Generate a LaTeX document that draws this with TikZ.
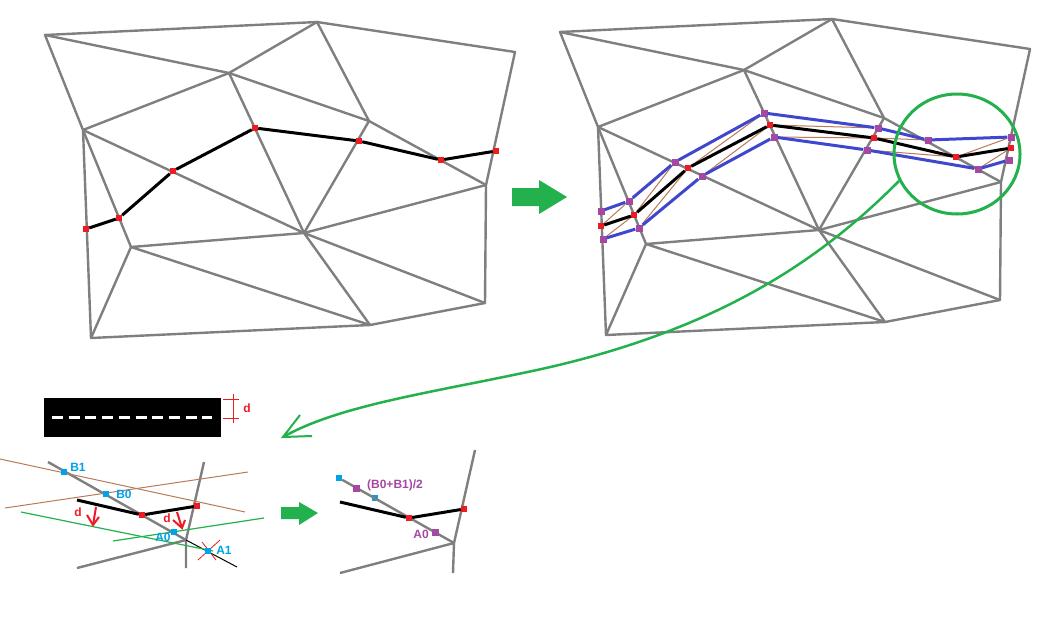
\documentclass[tikz,border=0pt]{standalone}
\usepackage{fontspec}
\setmainfont{Liberation Sans}
\usetikzlibrary{
	calc,
	positioning,
	shapes.geometric
}
\definecolor{MeshGray}{RGB}{127,127,127}
\definecolor{PtRed}{RGB}{237,28,36}
\definecolor{PtPurple}{RGB}{163,73,164}
\definecolor{PtBlue}{RGB}{0,162,232}
\definecolor{LineBlue}{RGB}{63,72,204}
\definecolor{LineBrown}{RGB}{185,122,87}
\definecolor{MarkGreen}{RGB}{34,177,76}
\tikzset{
	mesh/.style={line width=2.4pt, MeshGray, line join=round},
	road/.style={line width=3pt, black},
	side/.style={line width=3pt, LineBlue},
	thinbrown/.style={line width=1pt, LineBrown},
	thingreen/.style={line width=1.2pt, MarkGreen},
	redpt/.style={rectangle, fill=PtRed, inner sep=0pt, minimum size=6pt},
	purplept/.style={rectangle, fill=PtPurple, inner sep=0pt, minimum size=7pt},
	bluept/.style={rectangle, fill=PtBlue, inner sep=0pt, minimum size=6pt},
	lbl/.style={font=\fontsize{12}{12}\selectfont\bfseries, inner sep=0pt},
	fatarrow/.style={fill=MarkGreen, draw=none}
}
\begin{document}
\begin{tikzpicture}[x=1pt, y=-1pt]
	\useasboundingbox (0,0) rectangle (1062,635);
	% the two meshes
	\foreach \m/\dx/\dy in {L/0/0, R/515/-3} {
		\begin{scope}[shift={(\dx,\dy)}]
			\coordinate (\m a) at (45,35);
			\coordinate (\m b) at (317,22);
			\coordinate (\m c) at (515,52);
			\coordinate (\m d) at (229,73);
			\coordinate (\m e) at (83,130);
			\coordinate (\m f) at (369,121);
			\coordinate (\m g) at (486,185);
			\coordinate (\m h) at (304,233);
			\coordinate (\m i) at (131,247);
			\coordinate (\m j) at (485,303);
			\coordinate (\m k) at (370,325);
			\coordinate (\m l) at (91,338);
			\draw[mesh] (\m a) -- (\m b) -- (\m c) -- (\m g) -- (\m j) -- (\m k) -- (\m l) -- (\m e) -- cycle;
			\draw[mesh] (\m a) -- (\m d) -- (\m b) -- (\m f) -- (\m g);
			\draw[mesh] (\m e) -- (\m d) -- (\m f) -- (\m h) -- (\m d);
			\draw[mesh] (\m e) -- (\m h) -- (\m g);
			\draw[mesh] (\m e) -- (\m i) -- (\m l);
			\draw[mesh] (\m h) -- (\m i) -- (\m k) -- (\m h) -- (\m j);
		\end{scope}
	}
	% left road
	\node[redpt] (a1) at (86,229) {};
	\node[redpt] (a2) at (119,218) {};
	\node[redpt] (a3) at (173,171) {};
	\node[redpt] (a4) at (255,128) {};
	\node[redpt] (a5) at (359,141) {};
	\node[redpt] (a6) at (441,160) {};
	\node[redpt] (a7) at (496,151) {};
	\draw[road] (a1) -- (a2) -- (a3) -- (a4) -- (a5) -- (a6) -- (a7);
	% right road, with both sides
	\node[redpt] (m1) at (601,226) {};
	\node[redpt] (m2) at (634,215) {};
	\node[redpt] (m3) at (688,168) {};
	\node[redpt] (m4) at (770,125) {};
	\node[redpt] (m5) at (874,138) {};
	\node[redpt] (m6) at (956,157) {};
	\node[redpt] (m7) at (1011,148) {};
	\node[purplept] (u1) at (601,211) {};
	\node[purplept] (u2) at (629,201) {};
	\node[purplept] (u3) at (675,162) {};
	\node[purplept] (u4) at (764,113) {};
	\node[purplept] (u5) at (878,128) {};
	\node[purplept] (u6) at (928,140) {};
	\node[purplept] (u7) at (1011,137) {};
	\node[purplept] (w1) at (603,239) {};
	\node[purplept] (w2) at (639,228) {};
	\node[purplept] (w3) at (702,176) {};
	\node[purplept] (w4) at (774,137) {};
	\node[purplept] (w5) at (867,150) {};
	\node[purplept] (w6) at (978,169) {};
	\node[purplept] (w7) at (1009,160) {};
	\foreach \i/\j in {1/2, 2/3, 3/4, 4/5, 5/6, 6/7} {
		\draw[thinbrown] (m\i) -- (u\j);
		\draw[thinbrown] (w\i) -- (m\j);
		\draw[side] (u\i) -- (u\j);
		\draw[side] (w\i) -- (w\j);
		\draw[road] (m\i) -- (m\j);
	}
	% big arrows
	\draw[fatarrow] (512,188) -- (539,188) -- (539,180) -- (567,197) -- (539,214) -- (539,206) -- (512,206) -- cycle;
	\draw[fatarrow] (281,507) -- (299,507) -- (299,502) -- (318,513) -- (299,525) -- (299,519) -- (281,519) -- cycle;
	% zoom circle and its curve
	\node[ellipse, draw=MarkGreen, line width=3pt, inner sep=0pt, minimum width=126pt, minimum height=120pt] (zoomc) at (957,154) {};
	\coordinate (start) at (899,181);
	\coordinate (mid) at (537,370);
	\coordinate (tip) at (283,437);
	\draw[line width=2.5pt, MarkGreen] (start) .. controls (830,250) and (730,328) .. (mid) .. controls (430,393) and (340,405) .. (tip);
	\draw[line width=2pt, MarkGreen] (300,415) -- (tip) -- (312,436);
	% road section with its width
	\node[fill=black, minimum width=177pt, minimum height=39pt, inner sep=0pt] (band) at (132.5,417.5) {};
	\draw[white, line width=3pt, dash pattern=on 11pt off 5.7pt] (52,417) -- (212,417);
	\coordinate (t1) at (233,394);
	\coordinate (t2) at (233,423);
	\draw[PtRed, line width=1pt] (t1) -- (t2);
	\draw[PtRed, line width=1pt] (223,399) -- (239,399);
	\draw[PtRed, line width=1pt] (223,418) -- (239,418);
	\node[lbl, PtRed] (dtop) at (247,408) {d};
	% construction of the offset points
	\coordinate (v) at (186,540);
	\draw[mesh] (48,462) -- (v) -- (204,462);
	\draw[mesh] (77,568) -- (v) -- (186,568);
	\draw[black, line width=1pt] (v) -- (237,567);
	\draw[thinbrown] (0,459) -- (245,512);
	\draw[thinbrown] (5,508) -- (248,472);
	\draw[thingreen] (21,512) -- (213,551);
	\draw[thingreen] (113,541) -- (264,518);
	\node[redpt] (b2) at (142,515) {};
	\node[redpt] (b3) at (197,506) {};
	\coordinate (b1) at (77,500);
	\draw[road] (b1) -- (b2) -- (b3);
	\draw[PtRed, line width=0.8pt] (198,560) -- (220,540);
	\draw[PtRed, line width=0.8pt] (202,542) -- (216,560);
	\node[bluept] (pb1) at (64,472) {};
	\node[bluept] (pb0) at (106,494) {};
	\node[bluept] (pa0) at (174,532) {};
	\node[bluept] (pa1) at (208,551) {};
	\node[lbl, PtBlue] (tb1) at (78,467) {B1};
	\node[lbl, PtBlue] (tb0) at (124,494) {B0};
	\node[lbl, PtBlue] (ta0) at (163,537) {A0};
	\node[lbl, PtBlue] (ta1) at (224,550) {A1};
	\node[lbl, PtRed] (dl) at (78,512) {d};
	\node[lbl, PtRed] (dr) at (167,518) {d};
	\draw[PtRed, line width=2pt] (96,507) -- (93,525);
	\draw[PtRed, line width=2pt] (87,515) -- (93,525) -- (99,517);
	\draw[PtRed, line width=2pt] (177,512) -- (182,528);
	\draw[PtRed, line width=2pt] (173,520) -- (182,528) -- (185,520);
	% result
	\coordinate (w) at (454,543);
	\node[bluept] (qb1) at (339,478) {};
	\node[bluept] (qb0) at (375,498) {};
	\draw[mesh] (qb1) -- (w) -- (475,450);
	\draw[mesh] (340,573) -- (w) -- (453,573);
	\node[redpt] (c2) at (409,518) {};
	\node[redpt] (c3) at (464,509) {};
	\coordinate (c1) at (340,502);
	\draw[road] (c1) -- (c2) -- (c3);
	\node[purplept] (qm) at (356,488) {};
	\node[purplept] (qa) at (435,532) {};
	\node[lbl, PtPurple] (tm) at (395,485) {(B0+B1)/2};
	\node[lbl, PtPurple] (tq) at (421,534) {A0};
\end{tikzpicture}
\end{document}
